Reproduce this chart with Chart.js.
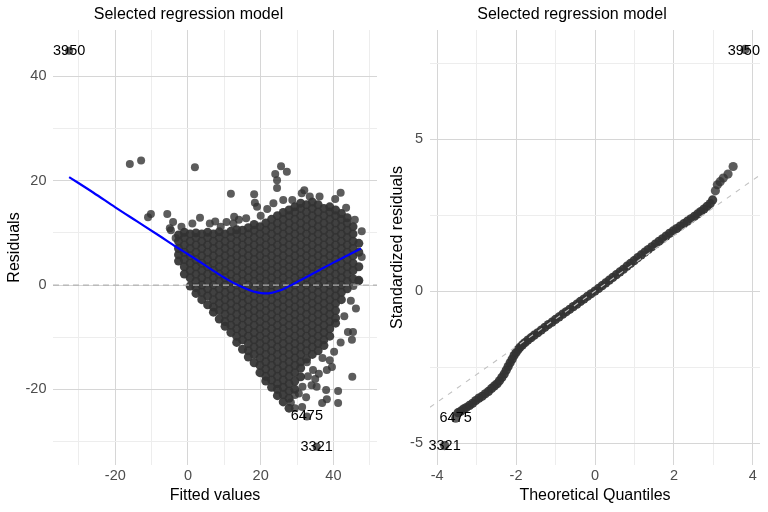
<!DOCTYPE html>
<html><head><meta charset="utf-8">
<script src="https://cdn.jsdelivr.net/npm/chart.js@4.4.1/dist/chart.umd.min.js"></script>
<style>
html,body{margin:0;padding:0;background:#fff;}
#wrap{display:flex;width:768px;height:512px;}
.box{position:relative;width:384px;height:512px;}
</style></head><body>
<div id="wrap"><div class="box"><canvas id="c1"></canvas></div><div class="box"><canvas id="c2"></canvas></div></div>
<script>
// ---------- Residuals vs Fitted ----------
const fittedCols = [-2.6,-1.0,0.6,2.2,3.8,5.4,7.0,8.6,10.2,11.8,13.4,15.0,16.6,18.2,19.8,21.4,23.0,24.6,26.2,27.8,29.4,31.0,32.6,34.2,35.8,37.4,39.0,40.6,42.2,43.8,45.4,47.0];
const residCols = [
 [4.6,5.8,7.0,8.4,9.6],
 [2.1,3.5,4.9,6.3,7.7,9.1,10.1],
 [-0.2,1.4,2.8,4.2,5.6,7.0,8.4,9.8],
 [-1.6,-0.5,0.7,2.1,3.5,4.9,6.3,7.7,9.1,10.0],
 [-2.8,-1.4,0.0,1.4,2.8,4.2,5.6,7.0,8.4,9.8],
 [-3.8,-2.1,-0.7,0.7,2.1,3.5,4.9,6.3,7.7,9.1,10.1],
 [-5.2,-4.2,-2.8,-1.4,0.0,1.4,2.8,4.2,5.6,7.0,8.4,9.8],
 [-6.5,-4.9,-3.5,-2.1,-0.7,0.7,2.1,3.5,4.9,6.3,7.7,9.1,10.2],
 [-7.9,-7.0,-5.6,-4.2,-2.8,-1.4,0.0,1.4,2.8,4.2,5.6,7.0,8.4,9.8],
 [-9.1,-7.7,-6.3,-4.9,-3.5,-2.1,-0.7,0.7,2.1,3.5,4.9,6.3,7.7,9.1,10.3],
 [-11.0,-9.8,-8.4,-7.0,-5.6,-4.2,-2.8,-1.4,0.0,1.4,2.8,4.2,5.6,7.0,8.4,9.8,10.6],
 [-12.3,-10.5,-9.1,-7.7,-6.3,-4.9,-3.5,-2.1,-0.7,0.7,2.1,3.5,4.9,6.3,7.7,9.1,10.5],
 [-13.8,-12.6,-11.2,-9.8,-8.4,-7.0,-5.6,-4.2,-2.8,-1.4,0.0,1.4,2.8,4.2,5.6,7.0,8.4,9.8,11.0],
 [-14.9,-13.3,-11.9,-10.5,-9.1,-7.7,-6.3,-4.9,-3.5,-2.1,-0.7,0.7,2.1,3.5,4.9,6.3,7.7,9.1,10.5,11.6],
 [-16.8,-15.4,-14.0,-12.6,-11.2,-9.8,-8.4,-7.0,-5.6,-4.2,-2.8,-1.4,0.0,1.4,2.8,4.2,5.6,7.0,8.4,9.8,11.2],
 [-18.4,-17.5,-16.1,-14.7,-13.3,-11.9,-10.5,-9.1,-7.7,-6.3,-4.9,-3.5,-2.1,-0.7,0.7,2.1,3.5,4.9,6.3,7.7,9.1,10.5,11.9],
 [-19.6,-18.2,-16.8,-15.4,-14.0,-12.6,-11.2,-9.8,-8.4,-7.0,-5.6,-4.2,-2.8,-1.4,0.0,1.4,2.8,4.2,5.6,7.0,8.4,9.8,11.2,12.6],
 [-21.2,-20.0,-18.9,-17.5,-16.1,-14.7,-13.3,-11.9,-10.5,-9.1,-7.7,-6.3,-4.9,-3.5,-2.1,-0.7,0.7,2.1,3.5,4.9,6.3,7.7,9.1,10.5,11.9,13.3],
 [-22.4,-21.0,-19.6,-18.2,-16.8,-15.4,-14.0,-12.6,-11.2,-9.8,-8.4,-7.0,-5.6,-4.2,-2.8,-1.4,0.0,1.4,2.8,4.2,5.6,7.0,8.4,9.8,11.2,12.6,13.9],
 [-23.6,-21.7,-20.3,-18.9,-17.5,-16.1,-14.7,-13.3,-11.9,-10.5,-9.1,-7.7,-6.3,-4.9,-3.5,-2.1,-0.7,0.7,2.1,3.5,4.9,6.3,7.7,9.1,10.5,11.9,13.3,14.4],
 [-20.0,-18.4,-16.8,-15.4,-14.0,-12.6,-11.2,-9.8,-8.4,-7.0,-5.6,-4.2,-2.8,-1.4,0.0,1.4,2.8,4.2,5.6,7.0,8.4,9.8,11.2,12.6,14.0,15.0],
 [-17.6,-15.9,-14.7,-13.3,-11.9,-10.5,-9.1,-7.7,-6.3,-4.9,-3.5,-2.1,-0.7,0.7,2.1,3.5,4.9,6.3,7.7,9.1,10.5,11.9,13.3,14.7,15.7],
 [-14.2,-12.6,-11.2,-9.8,-8.4,-7.0,-5.6,-4.2,-2.8,-1.4,0.0,1.4,2.8,4.2,5.6,7.0,8.4,9.8,11.2,12.6,14.0,15.4],
 [-13.3,-11.9,-10.5,-9.1,-7.7,-6.3,-4.9,-3.5,-2.1,-0.7,0.7,2.1,3.5,4.9,6.3,7.7,9.1,10.5,11.9,13.3,14.7,15.9],
 [-12.6,-11.2,-9.8,-8.4,-7.0,-5.6,-4.2,-2.8,-1.4,0.0,1.4,2.8,4.2,5.6,7.0,8.4,9.8,11.2,12.6,14.0,15.4],
 [-11.6,-10.5,-9.1,-7.7,-6.3,-4.9,-3.5,-2.1,-0.7,0.7,2.1,3.5,4.9,6.3,7.7,9.1,10.5,11.9,13.3,14.7],
 [-9.8,-8.4,-7.0,-5.6,-4.2,-2.8,-1.4,0.0,1.4,2.8,4.2,5.6,7.0,8.4,9.8,11.2,12.6,14.0,15.0],
 [-7.3,-6.3,-4.9,-3.5,-2.1,-0.7,0.7,2.1,3.5,4.9,6.3,7.7,9.1,10.5,11.9,13.3,14.4],
 [-2.8,-1.4,0.0,1.4,2.8,4.2,5.6,7.0,8.4,9.8,11.2,12.6,13.7],
 [-0.7,0.7,2.1,3.5,4.9,6.3,7.7,9.1,10.5,11.9,12.9],
 [1.2,2.8,4.2,5.6,7.0,8.4,9.8,11.2],
 [0.9,3.5,6.3,8.0]
];
const sparseFitted = [-16.0,-12.9,1.9,11.8,18.2,18.4,19.0,24.0,25.6,27.2,24.5,24.5,32.0,31.3,42.0,23.5,26.2,28.7,33.5,40.5,45.9,47.8,47.8,47.0,45.5,-11.0,-10.2,-5.7,-4.1,-5.0,-4.7,3.3,1.2,-3.4,6.0,9.0,14.0,16.0,20.0,12.5,7.5,21.8,36.2,43.5,-1.8,10.6,12.7,45.2,41.3,41.3,38.0,38.2,36.9,35.0,34.0,35.4,31.4,29.4,29.4,28.3,45.1,45.4,44.0,40.2,39.0,39.6,38.2,34.4,32.7,46.2,44.8,43.0,42.0,37.0,36.0,33.0,31.5,30.5,32.5];
const sparseResid = [23.2,23.9,22.6,17.5,17.4,15.8,15.0,21.3,22.8,21.7,20.1,18.6,18.2,17.6,17.7,15.7,16.3,16.3,17.0,16.5,12.5,10.3,5.4,0.8,-0.2,13.0,13.6,13.6,12.1,10.9,10.5,12.9,11.8,9.0,11.8,11.2,12.5,12.8,13.3,11.8,12.2,14.6,17.0,14.8,11.2,12.1,13.1,-17.6,-20.3,-22.6,-20.1,-21.9,-22.6,-18.0,-19.2,-19.5,-23.4,-21.1,-23.6,-22.5,-10.5,-9.0,-9.0,-12.8,-14.4,-15.7,-16.3,-16.3,-14.8,-4.5,-3.0,-6.0,-11.0,-14.0,-17.0,-17.5,-19.5,-20.8,-21.5];
const outlierIds = ['3950','6475','3321'];
const outlierFitted = [-32.7,32.7,35.4];
const outlierResid = [44.9,-25.2,-31.0];
const loessFitted = [-32.7,-26,-20,-14,-8,-3,0,4,8,11,14,17,19,21,23,25,27,29,32,36,40,44,47.6];
const loessResid = [20.7,17.7,14.9,12.2,9.5,7.2,5.9,4.1,2.3,1.0,-0.1,-1.0,-1.4,-1.6,-1.5,-1.1,-0.5,0.2,1.3,2.8,4.3,5.7,7.0];
const fittedLimits = [-37.14,52.0];
const residLimits = [-34.5,48.9];
const fittedTicks = [-30,-20,-10,0,10,20,30,40,50];
const fittedMajor = [-20,0,20,40];
const residTicks = [-30,-20,-10,0,10,20,30,40];
const residMajor = [-20,0,20,40];

// ---------- Normal Q-Q ----------
const qqTheo = [-3.81,-3.53,-3.47,-3.40,-3.33,-3.26,-3.18,-3.10,-3.02,-2.94,-2.86,-2.78,-2.70,-2.62,-2.55,-2.48,-2.42,-2.36,-2.30,-2.25,-2.20,-2.15,-2.10,-2.05,-2.00,-1.95,-1.90,-1.84,-1.77,-1.70,-1.62,-1.54,-1.45,-1.36,-1.27,-1.18,-1.09,-1.00,-0.91,-0.82,-0.73,-0.64,-0.55,-0.46,-0.37,-0.28,-0.19,-0.10,0.00,0.09,0.18,0.27,0.36,0.45,0.54,0.63,0.72,0.81,0.90,0.99,1.08,1.17,1.26,1.35,1.44,1.53,1.62,1.71,1.80,1.89,1.98,2.07,2.16,2.25,2.34,2.43,2.52,2.60,2.68,2.76,2.84,2.92,2.98,3.05,3.10,3.17,3.25,3.37,3.50,3.80];
const qqStd = [-5.08,-4.18,-4.00,-3.95,-3.88,-3.83,-3.76,-3.69,-3.60,-3.52,-3.46,-3.38,-3.30,-3.20,-3.12,-3.05,-2.95,-2.84,-2.73,-2.60,-2.48,-2.36,-2.24,-2.12,-2.02,-1.93,-1.85,-1.77,-1.69,-1.61,-1.53,-1.45,-1.37,-1.28,-1.19,-1.10,-1.02,-0.93,-0.85,-0.76,-0.68,-0.60,-0.51,-0.43,-0.34,-0.26,-0.17,-0.09,0.00,0.09,0.18,0.27,0.36,0.45,0.54,0.63,0.72,0.82,0.91,1.00,1.10,1.19,1.28,1.37,1.46,1.55,1.64,1.72,1.81,1.90,1.98,2.06,2.14,2.22,2.30,2.38,2.46,2.54,2.62,2.70,2.79,2.88,3.00,3.30,3.50,3.60,3.72,3.85,4.10,7.95];
const qqOutlierTheo = [3.77,-3.53,-3.81];
const qqOutlierStd = [7.9,-4.18,-5.08];
const qqRefTheo = [-4.18,4.18];
const qqRefStd = [-3.82,3.82];
const theoLimits = [-4.18,4.18];
const stdLimits = [-5.72,8.59];
const theoTicks = [-4,-3,-2,-1,0,1,2,3,4];
const theoMajor = [-4,-2,0,2,4];
const stdTicks = [-5,-2.5,0,2.5,5,7.5];
const stdMajor = [-5,0,5];

// ---------- drawing ----------
Chart.defaults.font.family = "'Liberation Sans', Arial, Helvetica, sans-serif";
const GRID_MAJOR = '#d6d6d6', GRID_MINOR = '#ededed';
const POINT = 'rgba(51,51,51,0.8)';
const POINT_DENSE = 'rgba(51,51,51,0.93)';

function axis(ticks, major, lim, title, isX, size, tickPad, titlePad) {
  return {
    type: 'linear', min: lim[0], max: lim[1],
    afterBuildTicks: s => { s.ticks = ticks.map(v => ({ value: v })); },
    afterFit: s => { if (isX) s.height = size; else s.width = size; },
    ticks: { autoSkip: false, maxRotation: 0, padding: tickPad, color: '#4d4d4d', font: { size: 14.5 },
      callback: v => major.includes(v) ? String(v) : '' },
    grid: { drawTicks: false, lineWidth: 1,
      color: c => (c.tick && major.includes(c.tick.value)) ? GRID_MAJOR : GRID_MINOR },
    border: { display: false },
    title: { display: true, text: title, color: '#000', font: { size: 16 }, padding: titlePad }
  };
}
function labelPlugin(ids, xs, ys) {
  return {
    id: 'obsLabels',
    afterDatasetsDraw(chart) {
      const { ctx, scales: { x, y } } = chart;
      ctx.save();
      ctx.font = "14.5px 'Liberation Sans', Arial, sans-serif";
      ctx.fillStyle = '#000'; ctx.textAlign = 'center'; ctx.textBaseline = 'middle';
      ids.forEach((t, i) => ctx.fillText(t, x.getPixelForValue(xs[i]), y.getPixelForValue(ys[i])));
      ctx.restore();
    }
  };
}
function baseOptions(padRight) {
  return {
    responsive: true, maintainAspectRatio: false, animation: false,
    layout: { padding: { left: 0, right: padRight, top: 0, bottom: 0 } },
    plugins: {
      legend: { display: false }, tooltip: { enabled: false },
      title: { display: true, text: 'Selected regression model', color: '#000',
        font: { size: 16, weight: 'normal' }, padding: { top: 5, bottom: 5.8 } }
    }
  };
}

// left panel data
const cloudCore = [];
fittedCols.forEach((x, i) => residCols[i].forEach(y => cloudCore.push({ x, y })));
const cloudSparse = sparseFitted.map((x, i) => ({ x, y: sparseResid[i] }));
outlierFitted.forEach((x, i) => cloudSparse.push({ x, y: outlierResid[i] }));
const loess = loessFitted.map((x, i) => ({ x, y: loessResid[i] }));
const zeroLine = fittedLimits.map(x => ({ x, y: 0 }));

const opt1 = baseOptions(7);
opt1.scales = {
  x: axis(fittedTicks, fittedMajor, fittedLimits, 'Fitted values', true, 47, 2, { top: 0, bottom: 7 }),
  y: axis(residTicks, residMajor, residLimits, 'Residuals', false, 53, 6.5, { top: 5.4, bottom: 0 })
};
new Chart(document.getElementById('c1'), {
  type: 'scatter',
  data: { datasets: [
    { type: 'line', data: loess, borderColor: '#0000ff', borderWidth: 2.2, pointRadius: 0, fill: false, cubicInterpolationMode: 'monotone', order: 0 },
    { type: 'line', data: zeroLine, borderColor: '#b3b3b3', borderWidth: 1.2, borderDash: [6, 4], pointRadius: 0, fill: false, order: 1 },
    { data: cloudSparse, pointRadius: 4, pointBackgroundColor: POINT, backgroundColor: POINT, pointBorderWidth: 0, borderWidth: 0, order: 2 },
    { data: cloudCore, pointRadius: 4.5, pointBackgroundColor: POINT_DENSE, backgroundColor: POINT_DENSE, pointBorderWidth: 0, borderWidth: 0, order: 3 }
  ] },
  options: opt1,
  plugins: [labelPlugin(outlierIds, outlierFitted, outlierResid)]
});

// right panel data
const qqPts = qqTheo.map((x, i) => ({ x, y: qqStd[i] }));
const qqRef = qqRefTheo.map((x, i) => ({ x, y: qqRefStd[i] }));
const qqColor = c => (c.raw && (c.raw.y > 3.1 || c.raw.x < -3.5)) ? POINT : POINT_DENSE;
const opt2 = baseOptions(8);
opt2.scales = {
  x: axis(theoTicks, theoMajor, theoLimits, 'Theoretical Quantiles', true, 47, 2, { top: 0, bottom: 7 }),
  y: axis(stdTicks, stdMajor, stdLimits, 'Standardized residuals', false, 46, 7, { top: 4.4, bottom: 0 })
};
new Chart(document.getElementById('c2'), {
  type: 'scatter',
  data: { datasets: [
    { type: 'line', data: qqRef, borderColor: '#c2c2c2', borderWidth: 1.1, borderDash: [5, 6], pointRadius: 0, fill: false, order: 0 },
    { data: qqPts, pointRadius: 4.6, pointBackgroundColor: qqColor, backgroundColor: qqColor, pointBorderWidth: 0, borderWidth: 0, order: 1 }
  ] },
  options: opt2,
  plugins: [labelPlugin(outlierIds, qqOutlierTheo, qqOutlierStd)]
});
</script>
</body></html>
